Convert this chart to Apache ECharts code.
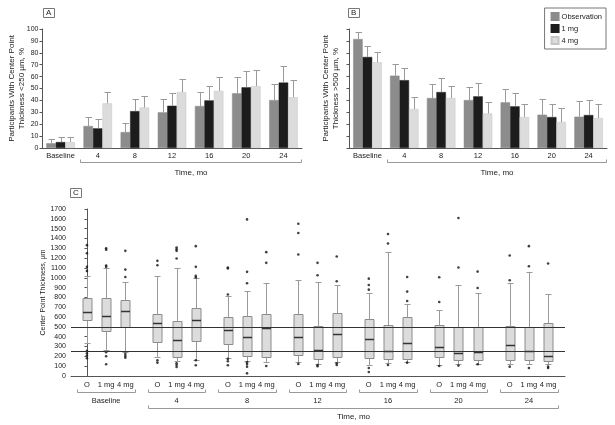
<!DOCTYPE html>
<html><head><meta charset="utf-8">
<script src="https://cdn.jsdelivr.net/npm/echarts@6/dist/echarts.min.js"></script>
<style>html,body{margin:0;padding:0;background:#fff}#c{width:615px;height:425px}</style>
</head><body><div id="c"></div>
<script>
// ---------- data ----------
const categories = ['Baseline', '4', '8', '12', '16', '20', '24'];
const seriesNames = ['Observation', '1 mg', '4 mg'];
const doseLabels = ['O', '1 mg', '4 mg'];

// Panel A: % with center point thickness < 250 µm (bar value, top of error bar)
const below250Obs = [4, 18.5, 13.4, 30, 35.3, 46, 40.3];
const below250ObsUpper = [7.3, 26, 21, 41, 47, 60, 54];
const below250Mg1 = [5, 16.5, 31, 35.5, 40, 51, 55];
const below250Mg1Upper = [9, 24, 41, 46, 52, 64.4, 68.6];
const below250Mg4 = [5, 37.5, 34, 47, 48, 52, 42.6];
const below250Mg4Upper = [9, 47, 44, 57.7, 60, 65.5, 57];

// Panel B: % with center point thickness > 500 µm
const above500Obs = [91.6, 60.8, 42, 40.3, 38.4, 28, 26.3];
const above500ObsUpper = [97.5, 71, 53.5, 51, 50, 41, 39.2];
const above500Mg1 = [76.5, 57, 47, 43.4, 35, 26, 27.7];
const above500Mg1Upper = [85.4, 67, 58.5, 54.6, 46.5, 37, 40.3];
const above500Mg4 = [72, 32.8, 42, 29, 26, 21.8, 25.2];
const above500Mg4Upper = [80.4, 42.6, 52, 38.4, 36.7, 33.3, 36.7];

// Panel C: box stats [min, Q1, median, Q3, max] per time point
const boxObs = [[334,566,647,790,1022],[194,351,542,627,1015],[184,330,467,596,818],[143,218,402,627,974],[116,184,375,576,842],[116,194,300,518,668],[123,167,320,514,944]];
const boxMg1 = [[266,453,606,790,1097],[150,194,371,562,1097],[157,208,392,606,869],[119,174,269,504,961],[129,174,256,518,1261],[119,160,235,494,927],[126,167,259,494,1056]];
const boxMg4 = [[245,494,661,770,954],[167,361,572,692,998],[140,198,484,627,947],[143,194,426,637,923],[143,174,341,596,729],[126,167,249,494,842],[119,153,208,535,831]];
const outObs = [[1332,1250,1111,1070,256,232,208,181],[1172,1128,160,136],[1104,1094,830,174,150,109],[1550,1455,1237,123],[991,927,879,82,41],[1005,753,102],[1227,974,95]];
const outMg1 = [[1301,1285,1124,1111,242,201,119],[1308,1291,1274,1196,130,112,92],[1594,1060,944,140,122,95,27],[1152,1026,112,99],[1445,1349,112],[1608,1104,106],[1322,1117,82]];
const outMg4 = [[1274,1083,1008,225,204,187],[1322,1111,1019,1002,160,109],[1261,1152,102],[1216,964,129,112],[1008,859,763,136],[1063,896,119],[1145,95,82]];
const thicknessRefLines = [500, 250];

// ---------- layout / style ----------
const FONT = '"Liberation Sans Narrow", "Liberation Sans", Arial, sans-serif';
const COLORS = ['#8c8c8c', '#1c1c1c', '#dcdcdc'];
const AXIS_COLOR = '#555';
const TXT = '#222';
const BAR_W = 9.5;
const GROUP_STEP = 3.67;
const xPos = (g, k) => g * GROUP_STEP + k;

const chart = echarts.init(document.getElementById('c'), null, {renderer: 'canvas'});

function errRender(k) {
  return function (params, api) {
    const i = api.value(0);
    const base = api.coord([i, api.value(1)]);
    const top = api.coord([i, api.value(2)]);
    const x = Math.round(base[0] + (k - 1) * BAR_W) + 0.5;
    const ty = Math.round(top[1]) + 0.5;
    return {type: 'group', children: [
      {type: 'line', shape: {x1: x, y1: base[1], x2: x, y2: ty}, style: {stroke: '#9a9a9a', lineWidth: 1}},
      {type: 'line', shape: {x1: x - 3, y1: ty, x2: x + 3.5, y2: ty}, style: {stroke: '#9a9a9a', lineWidth: 1}}
    ]};
  };
}

function bracketRender(params, api) {
  const c1 = api.coord([1, 0]);
  const c6 = api.coord([6, 0]);
  const w = api.size([1, 0])[0];
  const xl = Math.round(c1[0] - w / 2) + 1.5;
  const xr = Math.round(c6[0] + w / 2) - 0.5;
  const y = Math.round(c1[1] + 14) + 0.5;
  return {type: 'group', children: [
    {type: 'polyline', shape: {points: [[xl, y - 3], [xl, y], [xr, y], [xr, y - 3]]}, style: {stroke: '#999', lineWidth: 1, fill: null}},
    {type: 'text', x: (xl + xr) / 2, y: y + 10, style: {text: 'Time, mo', fontSize: 8, fontFamily: FONT, fill: TXT, align: 'center', verticalAlign: 'middle'}}
  ]};
}

function barPanel(gridIdx, vals, uppers) {
  const s = [];
  vals.forEach((v, k) => {
    s.push({type: 'bar', name: seriesNames[k], xAxisIndex: gridIdx, yAxisIndex: gridIdx,
      data: v, barWidth: BAR_W, barGap: '0%', itemStyle: {color: COLORS[k], borderColor: k === 2 ? '#c4c4c4' : COLORS[k], borderWidth: 0.5}, z: 2});
  });
  uppers.forEach((u, k) => {
    s.push({type: 'custom', name: 'err' + gridIdx + k, xAxisIndex: gridIdx, yAxisIndex: gridIdx,
      renderItem: errRender(k), data: categories.map((c, i) => [i, vals[k][i], u[i]]),
      encode: {x: 0, y: [1, 2]}, z: 3, silent: true});
  });
  s.push({type: 'custom', name: 'brk' + gridIdx, xAxisIndex: gridIdx, yAxisIndex: gridIdx,
    renderItem: bracketRender, data: [[1, 0]], encode: {x: 0, y: 1}, silent: true});
  return s;
}

function boxRender(params, api) {
  const x = api.value(0);
  const p = v => api.coord([x, v]);
  const pMin = p(api.value(1)), pQ1 = p(api.value(2)), pMed = p(api.value(3)), pQ3 = p(api.value(4)), pMax = p(api.value(5));
  const cx = Math.round(pMin[0]) + 0.5;
  const r = v => Math.round(v) + 0.5;
  const hw = 4.5;
  const ws = {stroke: '#9a9a9a', lineWidth: 1};
  return {type: 'group', children: [
    {type: 'line', shape: {x1: cx, y1: r(pMax[1]), x2: cx, y2: r(pQ3[1])}, style: ws},
    {type: 'line', shape: {x1: cx, y1: r(pQ1[1]), x2: cx, y2: r(pMin[1])}, style: ws},
    {type: 'line', shape: {x1: cx - 3, y1: r(pMax[1]), x2: cx + 3, y2: r(pMax[1])}, style: ws},
    {type: 'line', shape: {x1: cx - 3, y1: r(pMin[1]), x2: cx + 3, y2: r(pMin[1])}, style: ws},
    {type: 'rect', shape: {x: cx - hw, y: r(pQ3[1]), width: hw * 2, height: r(pQ1[1]) - r(pQ3[1])}, style: {fill: '#dcdcdc', stroke: '#8c8c8c', lineWidth: 1}},
    {type: 'line', shape: {x1: cx - hw, y1: r(pMed[1]), x2: cx + hw, y2: r(pMed[1])}, style: {stroke: '#333', lineWidth: 1.5}}
  ]};
}

function cLabelRender(params, api) {
  const g = params.dataIndex;
  const c = api.coord([api.value(0), 0]);
  const y0 = c[1];
  const ch = [];
  for (let k = 0; k < 3; k++) {
    const x = api.coord([xPos(g, k), 0])[0];
    ch.push({type: 'text', x: x, y: y0 + 9, style: {text: doseLabels[k], fontSize: 7.5, fontFamily: FONT, fill: TXT, align: 'center', verticalAlign: 'middle'}});
  }
  const xl = Math.round(api.coord([api.value(0) - 1.5, 0])[0]) + 0.5;
  const xr = Math.round(api.coord([api.value(0) + 1.5, 0])[0]) + 0.5;
  const y = Math.round(y0 + 16) + 0.5;
  ch.push({type: 'polyline', shape: {points: [[xl, y - 3], [xl, y], [xr, y], [xr, y - 3]]}, style: {stroke: '#999', lineWidth: 1, fill: null}});
  ch.push({type: 'text', x: c[0], y: y0 + 25, style: {text: categories[g], fontSize: 7.5, fontFamily: FONT, fill: TXT, align: 'center', verticalAlign: 'middle'}});
  return {type: 'group', children: ch};
}

function cBigBracket(params, api) {
  const a = api.coord([api.value(0), 0]);
  const b = api.coord([api.value(1), 0]);
  const xl = Math.round(a[0]) + 0.5, xr = Math.round(b[0]) + 0.5;
  const y = Math.round(a[1] + 32) + 0.5;
  return {type: 'group', children: [
    {type: 'polyline', shape: {points: [[xl, y - 3], [xl, y], [xr, y], [xr, y - 3]]}, style: {stroke: '#999', lineWidth: 1, fill: null}},
    {type: 'text', x: (xl + xr) / 2, y: y + 8.5, style: {text: 'Time, mo', fontSize: 8, fontFamily: FONT, fill: TXT, align: 'center', verticalAlign: 'middle'}}
  ]};
}

const boxData = [];
const outData = [];
[boxObs, boxMg1, boxMg4].forEach((arr, k) => arr.forEach((st, g) => boxData.push([xPos(g, k)].concat(st))));
[outObs, outMg1, outMg4].forEach((arr, k) => arr.forEach((list, g) => list.forEach(v => outData.push([xPos(g, k), v]))));

const pctAxis = (idx, showLabels, name, gap) => ({
  type: 'value', gridIndex: idx, min: 0, max: 100, interval: 10,
  axisLine: {show: true, lineStyle: {color: AXIS_COLOR}},
  axisTick: {show: true, length: 2.5, lineStyle: {color: AXIS_COLOR}},
  axisLabel: {show: showLabels, fontSize: 7, fontFamily: FONT, color: TXT, margin: 3.5},
  splitLine: {show: false},
  name: name, nameLocation: 'middle', nameGap: gap, nameRotate: 90, nameMoveOverlap: false,
  nameTextStyle: {fontSize: 8, fontFamily: FONT, color: TXT, lineHeight: 10}
});
const catAxis = idx => ({
  type: 'category', gridIndex: idx, data: categories,
  axisLine: {show: true, lineStyle: {color: AXIS_COLOR}},
  axisTick: {show: false},
  axisLabel: {interval: 0, fontSize: 7.5, fontFamily: FONT, color: TXT, margin: 4}
});

const panelTitle = (t, left, top) => ({text: t, left: left, top: top, padding: [1, 3, 1, 3], borderColor: '#777', borderWidth: 1,
  textStyle: {fontSize: 8, fontWeight: 'normal', fontFamily: FONT, color: TXT, lineHeight: 8}});

const option = {
  animation: false,
  backgroundColor: '#fff',
  textStyle: {fontFamily: FONT},
  title: [panelTitle('A', 43, 8), panelTitle('B', 348, 8), panelTitle('C', 70, 188)],
  legend: {data: seriesNames, orient: 'vertical', right: 9, top: 8, itemWidth: 7, itemHeight: 7, itemGap: 3,
    padding: [4, 4, 4, 6], borderColor: '#777', borderWidth: 1, icon: 'rect',
    textStyle: {fontSize: 7.5, fontFamily: FONT, color: TXT, padding: [0, 0, 0, -2]}},
  grid: [
    {left: 42, top: 29, width: 260, height: 119},
    {left: 349, top: 29, width: 258, height: 119},
    {left: 71, top: 209, width: 494, height: 167}
  ],
  xAxis: [catAxis(0), catAxis(1), {
    type: 'value', gridIndex: 2, min: -0.83, max: 24.9,
    axisLine: {show: true, onZero: false, lineStyle: {color: AXIS_COLOR}}, axisTick: {show: false}, axisLabel: {show: false}, splitLine: {show: false}
  }],
  yAxis: [
    pctAxis(0, true, 'Participants With Center Point\nThickness <250 µm, %', 15),
    pctAxis(1, false, 'Participants With Center Point\nThickness >500 µm, %', 8),
    {type: 'value', gridIndex: 2, min: 0, max: 1700, interval: 100,
      axisLine: {show: true, lineStyle: {color: AXIS_COLOR}},
      axisTick: {show: true, length: 2.5, lineStyle: {color: AXIS_COLOR}},
      axisLabel: {fontSize: 7, fontFamily: FONT, color: TXT, margin: 5, formatter: v => String(v)},
      splitLine: {show: false},
      name: 'Center Point Thickness, µm', nameLocation: 'middle', nameGap: 24, nameRotate: 90, nameMoveOverlap: false,
      nameTextStyle: {fontSize: 7, fontFamily: FONT, color: TXT}}
  ],
  series: [].concat(
    barPanel(0, [below250Obs, below250Mg1, below250Mg4], [below250ObsUpper, below250Mg1Upper, below250Mg4Upper]),
    barPanel(1, [above500Obs, above500Mg1, above500Mg4], [above500ObsUpper, above500Mg1Upper, above500Mg4Upper]),
    [
      {type: 'custom', name: 'boxes', xAxisIndex: 2, yAxisIndex: 2, renderItem: boxRender, data: boxData,
        encode: {x: 0, y: [1, 2, 3, 4, 5]}, z: 2,
        markLine: {symbol: 'none', silent: true, label: {show: false}, lineStyle: {color: '#333', width: 1, type: 'solid'},
          data: thicknessRefLines.map(v => ({yAxis: v}))}},
      {type: 'scatter', name: 'outliers', xAxisIndex: 2, yAxisIndex: 2, data: outData, symbol: 'circle', symbolSize: 2.6,
        itemStyle: {color: '#111'}, z: 4, silent: true},
      {type: 'custom', name: 'cLabels', xAxisIndex: 2, yAxisIndex: 2, renderItem: cLabelRender,
        data: categories.map((c, g) => [xPos(g, 1), 0]), encode: {x: 0, y: 1}, silent: true},
      {type: 'custom', name: 'cBracket', xAxisIndex: 2, yAxisIndex: 2, renderItem: cBigBracket,
        data: [[xPos(1, 1) - 1.5, xPos(6, 1) + 1.5]], encode: {x: [0, 1]}, silent: true}
    ]
  )
};
chart.setOption(option);
</script>
</body></html>
